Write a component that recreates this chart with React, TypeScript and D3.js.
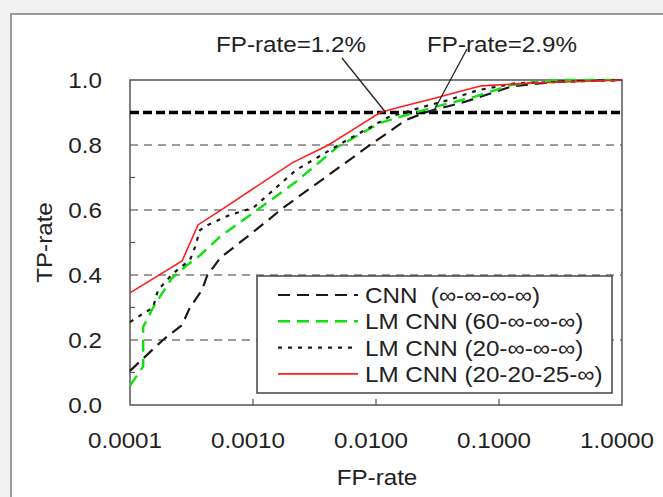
import React from "react";
import * as d3 from "d3";

// ROC curves (FP-rate on a log axis, TP-rate linear)
const cnnFp = [0.0001, 0.000185, 0.000265, 0.000307, 0.000385, 0.000423, 0.00054, 0.0011, 0.00175, 0.0085, 0.0175, 0.026, 0.053, 0.126, 0.3, 1];
const cnnTp = [0.105, 0.2, 0.246, 0.3, 0.354, 0.397, 0.452, 0.544, 0.606, 0.794, 0.877, 0.902, 0.933, 0.98, 0.995, 1];

const lm60Fp = [0.0001, 0.000128, 0.000128, 0.000154, 0.000219, 0.00028, 0.00037, 0.00054, 0.00108, 0.00224, 0.0049, 0.0108, 0.0175, 0.03, 0.063, 0.126, 0.3, 1];
const lm60Tp = [0.06, 0.118, 0.24, 0.3, 0.39, 0.425, 0.46, 0.518, 0.6, 0.687, 0.795, 0.868, 0.892, 0.917, 0.948, 0.985, 1, 1];

const lm20Fp = [0.0001, 0.000115, 0.000154, 0.000169, 0.000224, 0.000307, 0.000338, 0.00037, 0.00043, 0.00065, 0.001, 0.00224, 0.0058, 0.0127, 0.024, 0.0385, 0.068, 0.137, 1];
const lm20Tp = [0.255, 0.27, 0.3, 0.354, 0.405, 0.446, 0.486, 0.538, 0.554, 0.585, 0.606, 0.723, 0.815, 0.886, 0.917, 0.938, 0.969, 0.99, 1];

const lm2020Fp = [0.0001, 0.000265, 0.000357, 0.00058, 0.00208, 0.0041, 0.0068, 0.0108, 0.0157, 0.03, 0.046, 0.072, 0.17, 1];
const lm2020Tp = [0.345, 0.443, 0.554, 0.606, 0.745, 0.8, 0.852, 0.9, 0.917, 0.944, 0.963, 0.982, 0.99, 1];

const seriesNames = ["CNN\u00a0\u00a0(∞-∞-∞-∞)", "LM CNN (60-∞-∞-∞)", "LM CNN (20-∞-∞-∞)", "LM CNN (20-20-25-∞)"];

const xTicks = [0.0001, 0.001, 0.01, 0.1, 1];
const xTickLabels = ["0.0001", "0.0010", "0.0100", "0.1000", "1.0000"];
const yTicks = [0, 0.2, 0.4, 0.6, 0.8, 1.0];
const yMinorTicks = [0.1, 0.3, 0.5, 0.7];
const gridValues = [0.2, 0.4, 0.6, 0.8];

const threshold = 0.9;
const markers = [0.012, 0.029];
const markerLabels = ["FP-rate=1.2%", "FP-rate=2.9%"];

const W = 663;
const H = 497;
const FONT = "'Liberation Sans', Arial, sans-serif";

// the source text is a bit wider than it is tall, so stretch it sideways
const T = ({ x, y, anchor = "start", children }: { x: number; y: number; anchor?: string; children: React.ReactNode }) => (
  <text transform={`translate(${x},${y}) scale(1.1,1)`} textAnchor={anchor} fontSize={22} fill="#222">
    {children}
  </text>
);

export default function App() {
  const left = 130, right = 622, top = 80, bottom = 405;

  const x = d3.scaleLog().domain([0.0001, 1]).range([left, right]);
  const y = d3.scaleLinear().domain([0, 1]).range([bottom, top]);

  const line = d3
    .line<[number, number]>()
    .x((d) => x(d[0]))
    .y((d) => y(d[1]));

  const zipPts = (a: number[], b: number[]) => a.map((v, i) => [v, b[i]] as [number, number]);

  const series = [
    { pts: zipPts(cnnFp, cnnTp), color: "#1a1a1a", dash: "12,7", width: 2.2 },
    { pts: zipPts(lm60Fp, lm60Tp), color: "#10e010", dash: "12,7", width: 2.4 },
    { pts: zipPts(lm20Fp, lm20Tp), color: "#1a1a1a", dash: "4,6", width: 2.2 },
    { pts: zipPts(lm2020Fp, lm2020Tp), color: "#ff1f1f", dash: "none", width: 1.6 },
  ];

  const annStart = [
    [342, 58],
    [467, 49],
  ];
  const annText = [291, 502];

  return (
    <svg
      width={W}
      height={H}
      style={{ position: "absolute", left: 0, top: 0, background: "#f2f2f2" }}
      fontFamily={FONT}
    >
      {/* figure frame */}
      <rect x={11} y={14} width={660} height={500} fill="#ffffff" stroke="#9a9a9a" strokeWidth={2} />

      {/* dashed grid */}
      {gridValues.map((v) => (
        <line key={v} x1={left} x2={right} y1={y(v)} y2={y(v)} stroke="#3a3a3a" strokeWidth={1} strokeDasharray="8,6" />
      ))}

      {/* plot box */}
      <rect x={left} y={top} width={right - left} height={bottom - top} fill="none" stroke="#555" strokeWidth={1.5} />

      {/* y ticks */}
      {yMinorTicks.map((v) => (
        <line key={v} x1={left} x2={left + 5} y1={y(v)} y2={y(v)} stroke="#555" strokeWidth={1.2} />
      ))}
      {yTicks.map((v) => (
        <T key={v} x={102} y={y(v) + 8} anchor="end">
          {v.toFixed(1)}
        </T>
      ))}

      {/* x ticks */}
      {xTicks.map((v, i) => (
        <g key={v}>
          {i > 0 && i < xTicks.length - 1 && (
            <line x1={x(v)} x2={x(v)} y1={bottom} y2={bottom - 6} stroke="#555" strokeWidth={1.2} />
          )}
          <T x={x(v) - 5} y={448} anchor="middle">
            {xTickLabels[i]}
          </T>
        </g>
      ))}

      {/* axis titles */}
      <T x={377} y={485} anchor="middle">FP-rate</T>
      <text
        transform={`translate(52,${(top + bottom) / 2}) rotate(-90) scale(1.1,1)`}
        textAnchor="middle"
        fontSize={22}
        fill="#222"
      >
        TP-rate
      </text>

      {/* threshold */}
      <line x1={left} x2={right} y1={y(threshold)} y2={y(threshold)} stroke="#000" strokeWidth={3.5} strokeDasharray="9,4" />

      {/* curves */}
      {series.map((s, i) => (
        <path key={i} d={line(s.pts) ?? ""} fill="none" stroke={s.color} strokeWidth={s.width} strokeDasharray={s.dash} />
      ))}

      {/* annotations */}
      {markers.map((m, i) => (
        <g key={m}>
          <line x1={annStart[i][0]} y1={annStart[i][1]} x2={x(m)} y2={y(threshold)} stroke="#222" strokeWidth={1.3} />
          <T x={annText[i]} y={52} anchor="middle">
            {markerLabels[i]}
          </T>
        </g>
      ))}

      {/* legend */}
      <rect x={257} y={276} width={355} height={117} fill="#fff" stroke="#444" strokeWidth={1.5} />
      {series.map((s, i) => {
        const cy = 295 + i * 26.3;
        return (
          <g key={i}>
            <line x1={278} x2={358} y1={cy} y2={cy} stroke={s.color} strokeWidth={s.width} strokeDasharray={s.dash} />
            <T x={365} y={cy + 8}>
              {seriesNames[i]}
            </T>
          </g>
        );
      })}
    </svg>
  );
}
